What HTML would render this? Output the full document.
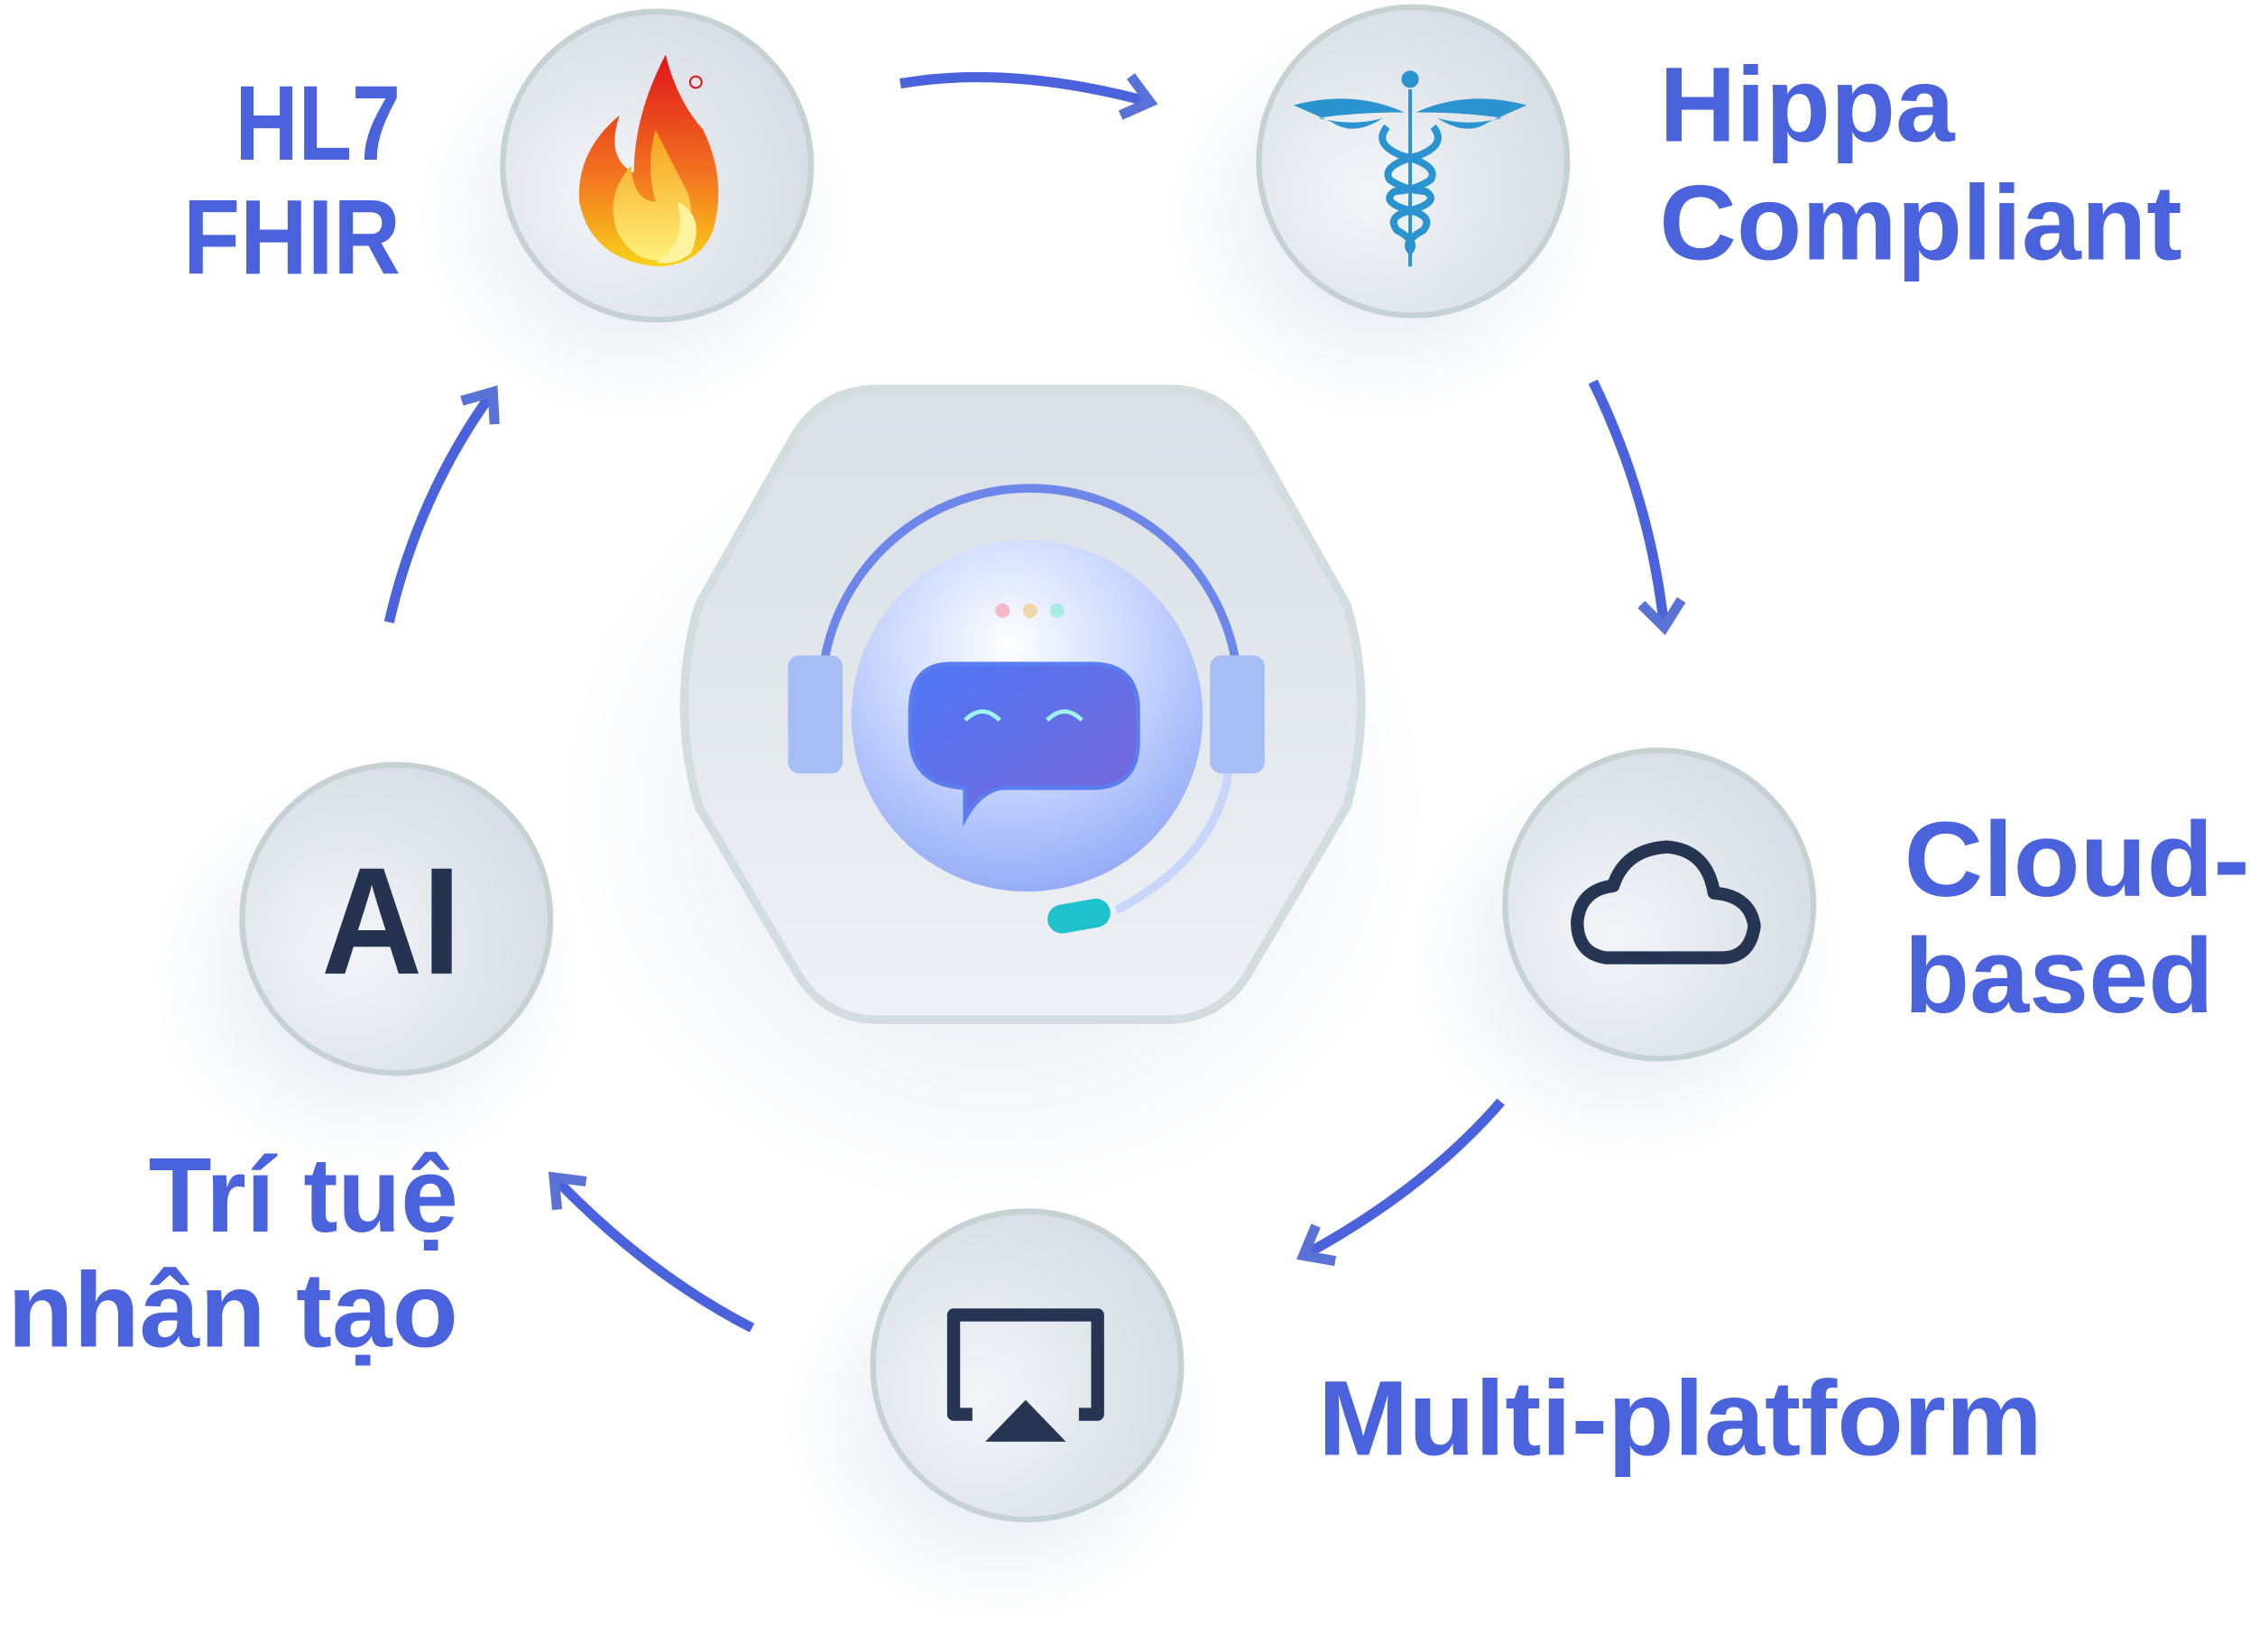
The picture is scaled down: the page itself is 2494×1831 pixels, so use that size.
<!DOCTYPE html>
<html><head><meta charset="utf-8"><style>
html,body{margin:0;padding:0;background:#fff;}
svg{display:block;}
text{font-family:"Liberation Sans","Noto Sans CJK SC",sans-serif;font-weight:bold;fill:#4a63dc;}
</style></head><body>
<svg width="2494" height="1831" viewBox="0 0 1562 1147" xmlns="http://www.w3.org/2000/svg">
<defs>
<radialGradient id="cg" cx="35%" cy="60%" r="75%">
<stop offset="0" stop-color="#f3f5f8"/><stop offset="1" stop-color="#d3dae2"/></radialGradient>
<radialGradient id="sh" cx="50%" cy="50%" r="50%">
<stop offset="0" stop-color="#b7c4d6" stop-opacity=".55"/><stop offset="1" stop-color="#c9d3e0" stop-opacity="0"/></radialGradient>
<linearGradient id="hx" x1="0" y1="0" x2="0" y2="1">
<stop offset="0" stop-color="#d9dfe6"/><stop offset="1" stop-color="#eef1f5"/></linearGradient>
<radialGradient id="bot" cx="45%" cy="30%" r="75%">
<stop offset="0" stop-color="#ffffff"/><stop offset=".5" stop-color="#c9d6ff"/><stop offset="1" stop-color="#8fa6f5"/></radialGradient>
<linearGradient id="bub" x1="0" y1="0" x2="1" y2="1">
<stop offset="0" stop-color="#4e78f5"/><stop offset="1" stop-color="#7a65d8"/></linearGradient>
<linearGradient id="fl1" x1="0" y1="0" x2="0" y2="1">
<stop offset="0" stop-color="#e0141c"/><stop offset=".6" stop-color="#f47a20"/><stop offset="1" stop-color="#f9d21a"/></linearGradient>
<linearGradient id="fl2" x1="0" y1="0" x2="0" y2="1">
<stop offset="0" stop-color="#f8a01a"/><stop offset="1" stop-color="#fff07a"/></linearGradient>
<marker id="ah" viewBox="0 0 20 20" refX="10" refY="10" markerWidth="5" markerHeight="5" orient="auto" markerUnits="strokeWidth">
<polyline points="2,2 12,10 2,18" fill="none" stroke="#5a72d6" stroke-width="4"/></marker>
</defs>

<ellipse cx="440" cy="150" rx="150" ry="140" fill="url(#sh)"/>
<ellipse cx="960" cy="150" rx="150" ry="140" fill="url(#sh)"/>
<ellipse cx="1130" cy="665" rx="150" ry="140" fill="url(#sh)"/>
<ellipse cx="695" cy="985" rx="150" ry="140" fill="url(#sh)"/>
<ellipse cx="255" cy="675" rx="150" ry="140" fill="url(#sh)"/>
<ellipse cx="690" cy="560" rx="300" ry="280" fill="url(#sh)"/>

<path d="M610,270 L810,270 Q850,270 870,305 L935,420 Q955,489 935,560 L870,670 Q850,708 810,708 L610,708 Q570,708 550,670 L485,560 Q465,489 485,420 L550,305 Q570,270 610,270 Z" fill="url(#hx)" stroke="#d3dcdf" stroke-width="6"/>

<path d="M572,460 A145,145 0 0 1 858,460" fill="none" stroke="#6d86ea" stroke-width="6"/>
<path d="M853,535 Q845,595 775,632" fill="none" stroke="#c8d6fb" stroke-width="6"/>
<circle cx="713" cy="497" r="122" fill="url(#bot)"/>
<rect x="547" y="455" width="38" height="82" rx="8" fill="#a7bdf6"/>
<rect x="840" y="455" width="38" height="82" rx="8" fill="#a7bdf6"/>
<circle cx="696" cy="424" r="5" fill="#f4b8c6"/><circle cx="715" cy="424" r="5" fill="#f4d7a8"/><circle cx="734" cy="424" r="5" fill="#a8ece5"/>
<path d="M660,461 L758,461 Q790,461 790,493 L790,515 Q790,547 758,547 L695,547 Q680,550 670,568 L670,547 Q632,545 632,510 L632,493 Q632,461 660,461 Z" fill="url(#bub)" stroke="#5a7ef0" stroke-width="3"/>
<path d="M670,500 Q682,488 694,500" fill="none" stroke="#9ff3ef" stroke-width="3"/>
<path d="M727,500 Q739,488 751,500" fill="none" stroke="#9ff3ef" stroke-width="3"/>
<rect x="727" y="626" width="44" height="20" rx="10" fill="#1fc2cc" transform="rotate(-10 749 636)"/>

<g stroke="#c6d1d4" stroke-width="4" fill="url(#cg)">
<circle cx="456" cy="115" r="107"/>
<circle cx="981" cy="112" r="107"/>
<circle cx="1152" cy="628" r="107"/>
<circle cx="713" cy="948" r="107"/>
<circle cx="275" cy="638" r="107"/>
</g>

<path d="M462,38 Q470,70 488,90 Q505,125 495,160 Q485,185 455,185 Q410,180 402,140 Q400,105 430,80 Q420,110 440,120 Q440,80 462,38 Z" fill="url(#fl1)"/>
<path d="M455,90 Q470,120 478,135 Q485,165 465,180 Q440,185 428,160 Q420,135 438,115 Q440,140 455,140 Q448,115 455,90 Z" fill="url(#fl2)"/>
<path d="M470,140 Q490,150 480,175 Q470,185 455,182 Q478,168 470,140 Z" fill="#fff3a0"/>
<circle cx="483" cy="57" r="4" fill="none" stroke="#e0141c" stroke-width="1.3"/>

<g fill="#2a93d0" stroke="#2a93d0">
<circle cx="979" cy="55" r="6" stroke="none"/>
<path d="M898,73 Q940,62 975,78 Q940,78 915,82 Q940,88 960,82 Q940,95 925,85 Z" stroke="none"/>
<path d="M1060,73 Q1018,62 983,78 Q1018,78 1043,82 Q1018,88 998,82 Q1018,95 1033,85 Z" stroke="none"/>
<line x1="979" y1="62" x2="979" y2="185" stroke-width="2.5"/>
<path d="M995,88 Q1005,100 985,108 Q958,115 965,125 Q975,132 990,133 Q1000,140 980,146 Q962,150 970,160 Q985,168 978,175" fill="none" stroke-width="5"/>
<path d="M963,88 Q953,100 973,108 Q1000,115 993,125 Q983,132 968,133 Q958,140 978,146 Q996,150 988,160 Q973,168 980,175" fill="none" stroke-width="5"/>
</g>

<path d="M1115,665 Q1095,662 1095,640 Q1097,618 1120,615 Q1128,590 1157,588 Q1185,590 1190,620 Q1215,622 1218,643 Q1215,665 1195,665 Z" fill="none" stroke="#263552" stroke-width="9" stroke-linejoin="round"/>

<path d="M675,982 L662,982 L662,913 L762,913 L762,982 L749,982" fill="none" stroke="#263552" stroke-width="9" stroke-linejoin="round"/>
<polygon points="712,972 740,1001 684,1001" fill="#263552"/>

<text x="223" y="676" textLength="97" lengthAdjust="spacingAndGlyphs" font-size="106" style="fill:#253350">AI</text>

<g fill="none" stroke="#4a63dc" stroke-width="7" marker-end="url(#ah)">
<path d="M625,58 Q700,45 795,70"/>
<path d="M1106,265 Q1145,345 1155,432"/>
<path d="M1042,765 Q990,825 908,870"/>
<path d="M522,922 Q450,885 387,820"/>
<path d="M270,432 Q290,345 340,275"/>
</g>

<g font-size="74">
<text x="163" y="111" textLength="115" lengthAdjust="spacingAndGlyphs">HL7</text>
<text x="127" y="190" textLength="151" lengthAdjust="spacingAndGlyphs">FHIR</text>
<text x="1152" y="98" textLength="205" lengthAdjust="spacingAndGlyphs">Hippa</text>
<text x="1152" y="180" textLength="363" lengthAdjust="spacingAndGlyphs">Compliant</text>
<text x="1322" y="622" textLength="240" lengthAdjust="spacingAndGlyphs">Cloud-</text>
<text x="1322" y="703" textLength="215" lengthAdjust="spacingAndGlyphs">based</text>
<text x="915" y="1010" textLength="503" lengthAdjust="spacingAndGlyphs">Multi-platform</text>
<text x="103" y="855" textLength="215" lengthAdjust="spacingAndGlyphs">Trí tuệ</text>
<text x="5" y="935" textLength="313" lengthAdjust="spacingAndGlyphs">nhân tạo</text>
</g>
</svg>
</body></html>
